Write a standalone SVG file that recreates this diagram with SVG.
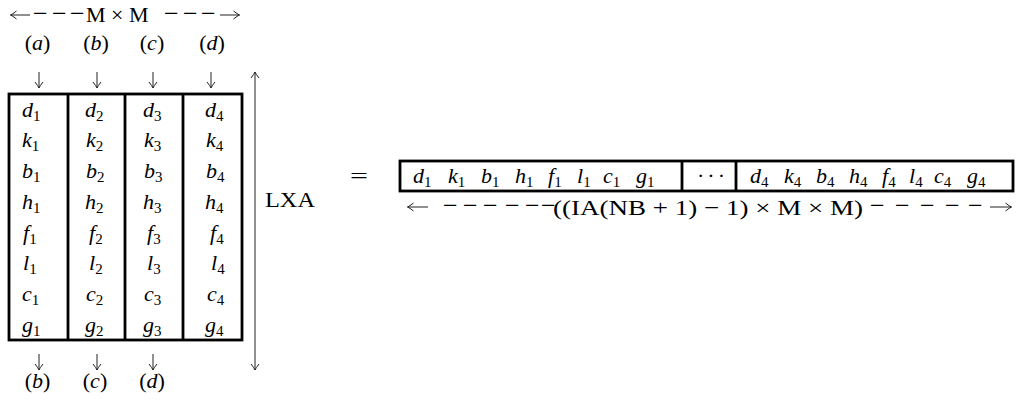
<svg xmlns="http://www.w3.org/2000/svg" width="1019" height="400" viewBox="0 0 1019 400">
<style>
.t{font-family:"Liberation Serif","Times New Roman",serif;font-size:22px;fill:#000}
.d{font-size:26px}
.i{font-style:italic}
.s{font-size:15px;font-style:normal}
.box{fill:none;stroke:#000;stroke-width:2.8}
.ar{fill:none;stroke:#222;stroke-width:1}
</style>
<defs>
<marker id="ah" viewBox="-8 -5 10 10" refX="0" refY="0" markerWidth="10" markerHeight="10" markerUnits="userSpaceOnUse" orient="auto-start-reverse">
<path d="M-6,-4 Q-2,-0.8 0,0 Q-2,0.8 -6,4" fill="none" stroke="#222" stroke-width="1"/>
</marker>
</defs>
<rect width="1019" height="400" fill="#fff"/>

<g id="top-dimension">
<text class="t d" x="33 52 70" y="21.5">−−−</text>
<text class="t" x="86" y="22">M × M</text>
<text class="t d" x="164 183 201" y="21.5">−−−</text>
</g>

<g id="top-labels">
<text class="t" x="37.5" y="50" text-anchor="middle">(<tspan class="i">a</tspan>)</text>
<text class="t" x="96" y="50" text-anchor="middle">(<tspan class="i">b</tspan>)</text>
<text class="t" x="152" y="50" text-anchor="middle">(<tspan class="i">c</tspan>)</text>
<text class="t" x="212" y="50" text-anchor="middle">(<tspan class="i">d</tspan>)</text>
</g>

<g id="matrix">
<rect class="box" x="9" y="94" width="233" height="246"/>
<line class="box" x1="68" y1="94" x2="68" y2="340"/>
<line class="box" x1="125" y1="94" x2="125" y2="340"/>
<line class="box" x1="183" y1="94" x2="183" y2="340"/>
</g>

<g id="column-1">
<text class="t" x="22" y="116.7"><tspan class="i">d</tspan><tspan class="s" y="120.7">1</tspan></text>
<text class="t" x="22" y="147.4"><tspan class="i">k</tspan><tspan class="s" y="151.4">1</tspan></text>
<text class="t" x="22" y="178.1"><tspan class="i">b</tspan><tspan class="s" y="182.1">1</tspan></text>
<text class="t" x="22" y="208.8"><tspan class="i">h</tspan><tspan class="s" y="212.8">1</tspan></text>
<text class="t" x="23" y="239.5"><tspan class="i">f</tspan><tspan class="s" y="243.5">1</tspan></text>
<text class="t" x="23" y="270.2"><tspan class="i">l</tspan><tspan class="s" y="274.2">1</tspan></text>
<text class="t" x="22" y="300.9"><tspan class="i">c</tspan><tspan class="s" y="304.9">1</tspan></text>
<text class="t" x="22" y="331.6"><tspan class="i">g</tspan><tspan class="s" y="335.6">1</tspan></text>
</g>

<g id="column-2">
<text class="t" x="85" y="116.7"><tspan class="i">d</tspan><tspan class="s" y="120.7">2</tspan></text>
<text class="t" x="86" y="147.4"><tspan class="i">k</tspan><tspan class="s" y="151.4">2</tspan></text>
<text class="t" x="86" y="178.1"><tspan class="i">b</tspan><tspan class="s" y="182.1">2</tspan></text>
<text class="t" x="85" y="208.8"><tspan class="i">h</tspan><tspan class="s" y="212.8">2</tspan></text>
<text class="t" x="89" y="239.5"><tspan class="i">f</tspan><tspan class="s" y="243.5">2</tspan></text>
<text class="t" x="89" y="270.2"><tspan class="i">l</tspan><tspan class="s" y="274.2">2</tspan></text>
<text class="t" x="86" y="300.9"><tspan class="i">c</tspan><tspan class="s" y="304.9">2</tspan></text>
<text class="t" x="85" y="331.6"><tspan class="i">g</tspan><tspan class="s" y="335.6">2</tspan></text>
</g>

<g id="column-3">
<text class="t" x="143" y="116.7"><tspan class="i">d</tspan><tspan class="s" y="120.7">3</tspan></text>
<text class="t" x="144" y="147.4"><tspan class="i">k</tspan><tspan class="s" y="151.4">3</tspan></text>
<text class="t" x="144" y="178.1"><tspan class="i">b</tspan><tspan class="s" y="182.1">3</tspan></text>
<text class="t" x="143" y="208.8"><tspan class="i">h</tspan><tspan class="s" y="212.8">3</tspan></text>
<text class="t" x="147" y="239.5"><tspan class="i">f</tspan><tspan class="s" y="243.5">3</tspan></text>
<text class="t" x="147" y="270.2"><tspan class="i">l</tspan><tspan class="s" y="274.2">3</tspan></text>
<text class="t" x="144" y="300.9"><tspan class="i">c</tspan><tspan class="s" y="304.9">3</tspan></text>
<text class="t" x="143" y="331.6"><tspan class="i">g</tspan><tspan class="s" y="335.6">3</tspan></text>
</g>

<g id="column-4">
<text class="t" x="205" y="116.7"><tspan class="i">d</tspan><tspan class="s" y="120.7">4</tspan></text>
<text class="t" x="206" y="147.4"><tspan class="i">k</tspan><tspan class="s" y="151.4">4</tspan></text>
<text class="t" x="206" y="178.1"><tspan class="i">b</tspan><tspan class="s" y="182.1">4</tspan></text>
<text class="t" x="205" y="208.8"><tspan class="i">h</tspan><tspan class="s" y="212.8">4</tspan></text>
<text class="t" x="210" y="239.5"><tspan class="i">f</tspan><tspan class="s" y="243.5">4</tspan></text>
<text class="t" x="211" y="270.2"><tspan class="i">l</tspan><tspan class="s" y="274.2">4</tspan></text>
<text class="t" x="207" y="300.9"><tspan class="i">c</tspan><tspan class="s" y="304.9">4</tspan></text>
<text class="t" x="205" y="331.6"><tspan class="i">g</tspan><tspan class="s" y="335.6">4</tspan></text>
</g>

<g id="bottom-labels">
<text class="t" x="37.5" y="388" text-anchor="middle">(<tspan class="i">b</tspan>)</text>
<text class="t" x="95" y="388" text-anchor="middle">(<tspan class="i">c</tspan>)</text>
<text class="t" x="152" y="388" text-anchor="middle">(<tspan class="i">d</tspan>)</text>
</g>

<g id="lxa-label">
<text class="t" x="265" y="207" textLength="50" lengthAdjust="spacingAndGlyphs">LXA</text>
</g>

<g id="equals">
<text class="t" x="350" y="183" textLength="18" lengthAdjust="spacingAndGlyphs">=</text>
</g>

<g id="vector">
<rect class="box" x="400" y="161" width="613" height="30"/>
<line class="box" x1="682" y1="161" x2="682" y2="191"/>
<line class="box" x1="736" y1="161" x2="736" y2="191"/>
<text class="t" y="183"><tspan class="i" x="413">d</tspan><tspan class="s" y="187">1</tspan><tspan class="i" x="448" y="183">k</tspan><tspan class="s" y="187">1</tspan><tspan class="i" x="481" y="183">b</tspan><tspan class="s" y="187">1</tspan><tspan class="i" x="515" y="183">h</tspan><tspan class="s" y="187">1</tspan><tspan class="i" x="548" y="183">f</tspan><tspan class="s" y="187">1</tspan><tspan class="i" x="577" y="183">l</tspan><tspan class="s" y="187">1</tspan><tspan class="i" x="603" y="183">c</tspan><tspan class="s" y="187">1</tspan><tspan class="i" x="636" y="183">g</tspan><tspan class="s" y="187">1</tspan></text>
<text class="t" x="697" y="183" textLength="28">···</text>
<text class="t" y="183"><tspan class="i" x="750">d</tspan><tspan class="s" y="187">4</tspan><tspan class="i" x="784" y="183">k</tspan><tspan class="s" y="187">4</tspan><tspan class="i" x="816" y="183">b</tspan><tspan class="s" y="187">4</tspan><tspan class="i" x="849" y="183">h</tspan><tspan class="s" y="187">4</tspan><tspan class="i" x="882" y="183">f</tspan><tspan class="s" y="187">4</tspan><tspan class="i" x="909" y="183">l</tspan><tspan class="s" y="187">4</tspan><tspan class="i" x="934" y="183">c</tspan><tspan class="s" y="187">4</tspan><tspan class="i" x="967" y="183">g</tspan><tspan class="s" y="187">4</tspan></text>
</g>

<g id="vector-dimension">
<text class="t d" x="443 463 483 505 525 541" y="213.5">−−−−−−</text>
<text class="t" x="553" y="215" textLength="310" lengthAdjust="spacingAndGlyphs">((IA(NB + 1) − 1) × M × M)</text>
<text class="t d" x="870 895 920 945 968" y="213.5">−−−−−</text>
</g>

<g id="connectors">
<line class="ar" x1="30" y1="15" x2="10.5" y2="15" marker-end="url(#ah)"/>
<line class="ar" x1="220" y1="15" x2="239.5" y2="15" marker-end="url(#ah)"/>
<line class="ar" x1="39" y1="72" x2="39" y2="88" marker-end="url(#ah)"/>
<line class="ar" x1="97" y1="72" x2="97" y2="88" marker-end="url(#ah)"/>
<line class="ar" x1="153" y1="72" x2="153" y2="88" marker-end="url(#ah)"/>
<line class="ar" x1="211" y1="72" x2="211" y2="88" marker-end="url(#ah)"/>
<line class="ar" x1="39" y1="354" x2="39" y2="370" marker-end="url(#ah)"/>
<line class="ar" x1="97" y1="354" x2="97" y2="370" marker-end="url(#ah)"/>
<line class="ar" x1="153" y1="354" x2="153" y2="370" marker-end="url(#ah)"/>
<line class="ar" x1="255" y1="72" x2="255" y2="370" marker-start="url(#ah)" marker-end="url(#ah)"/>
<line class="ar" x1="428" y1="207" x2="407.5" y2="207" marker-end="url(#ah)"/>
<line class="ar" x1="990" y1="207" x2="1011.5" y2="207" marker-end="url(#ah)"/>
</g>
</svg>
